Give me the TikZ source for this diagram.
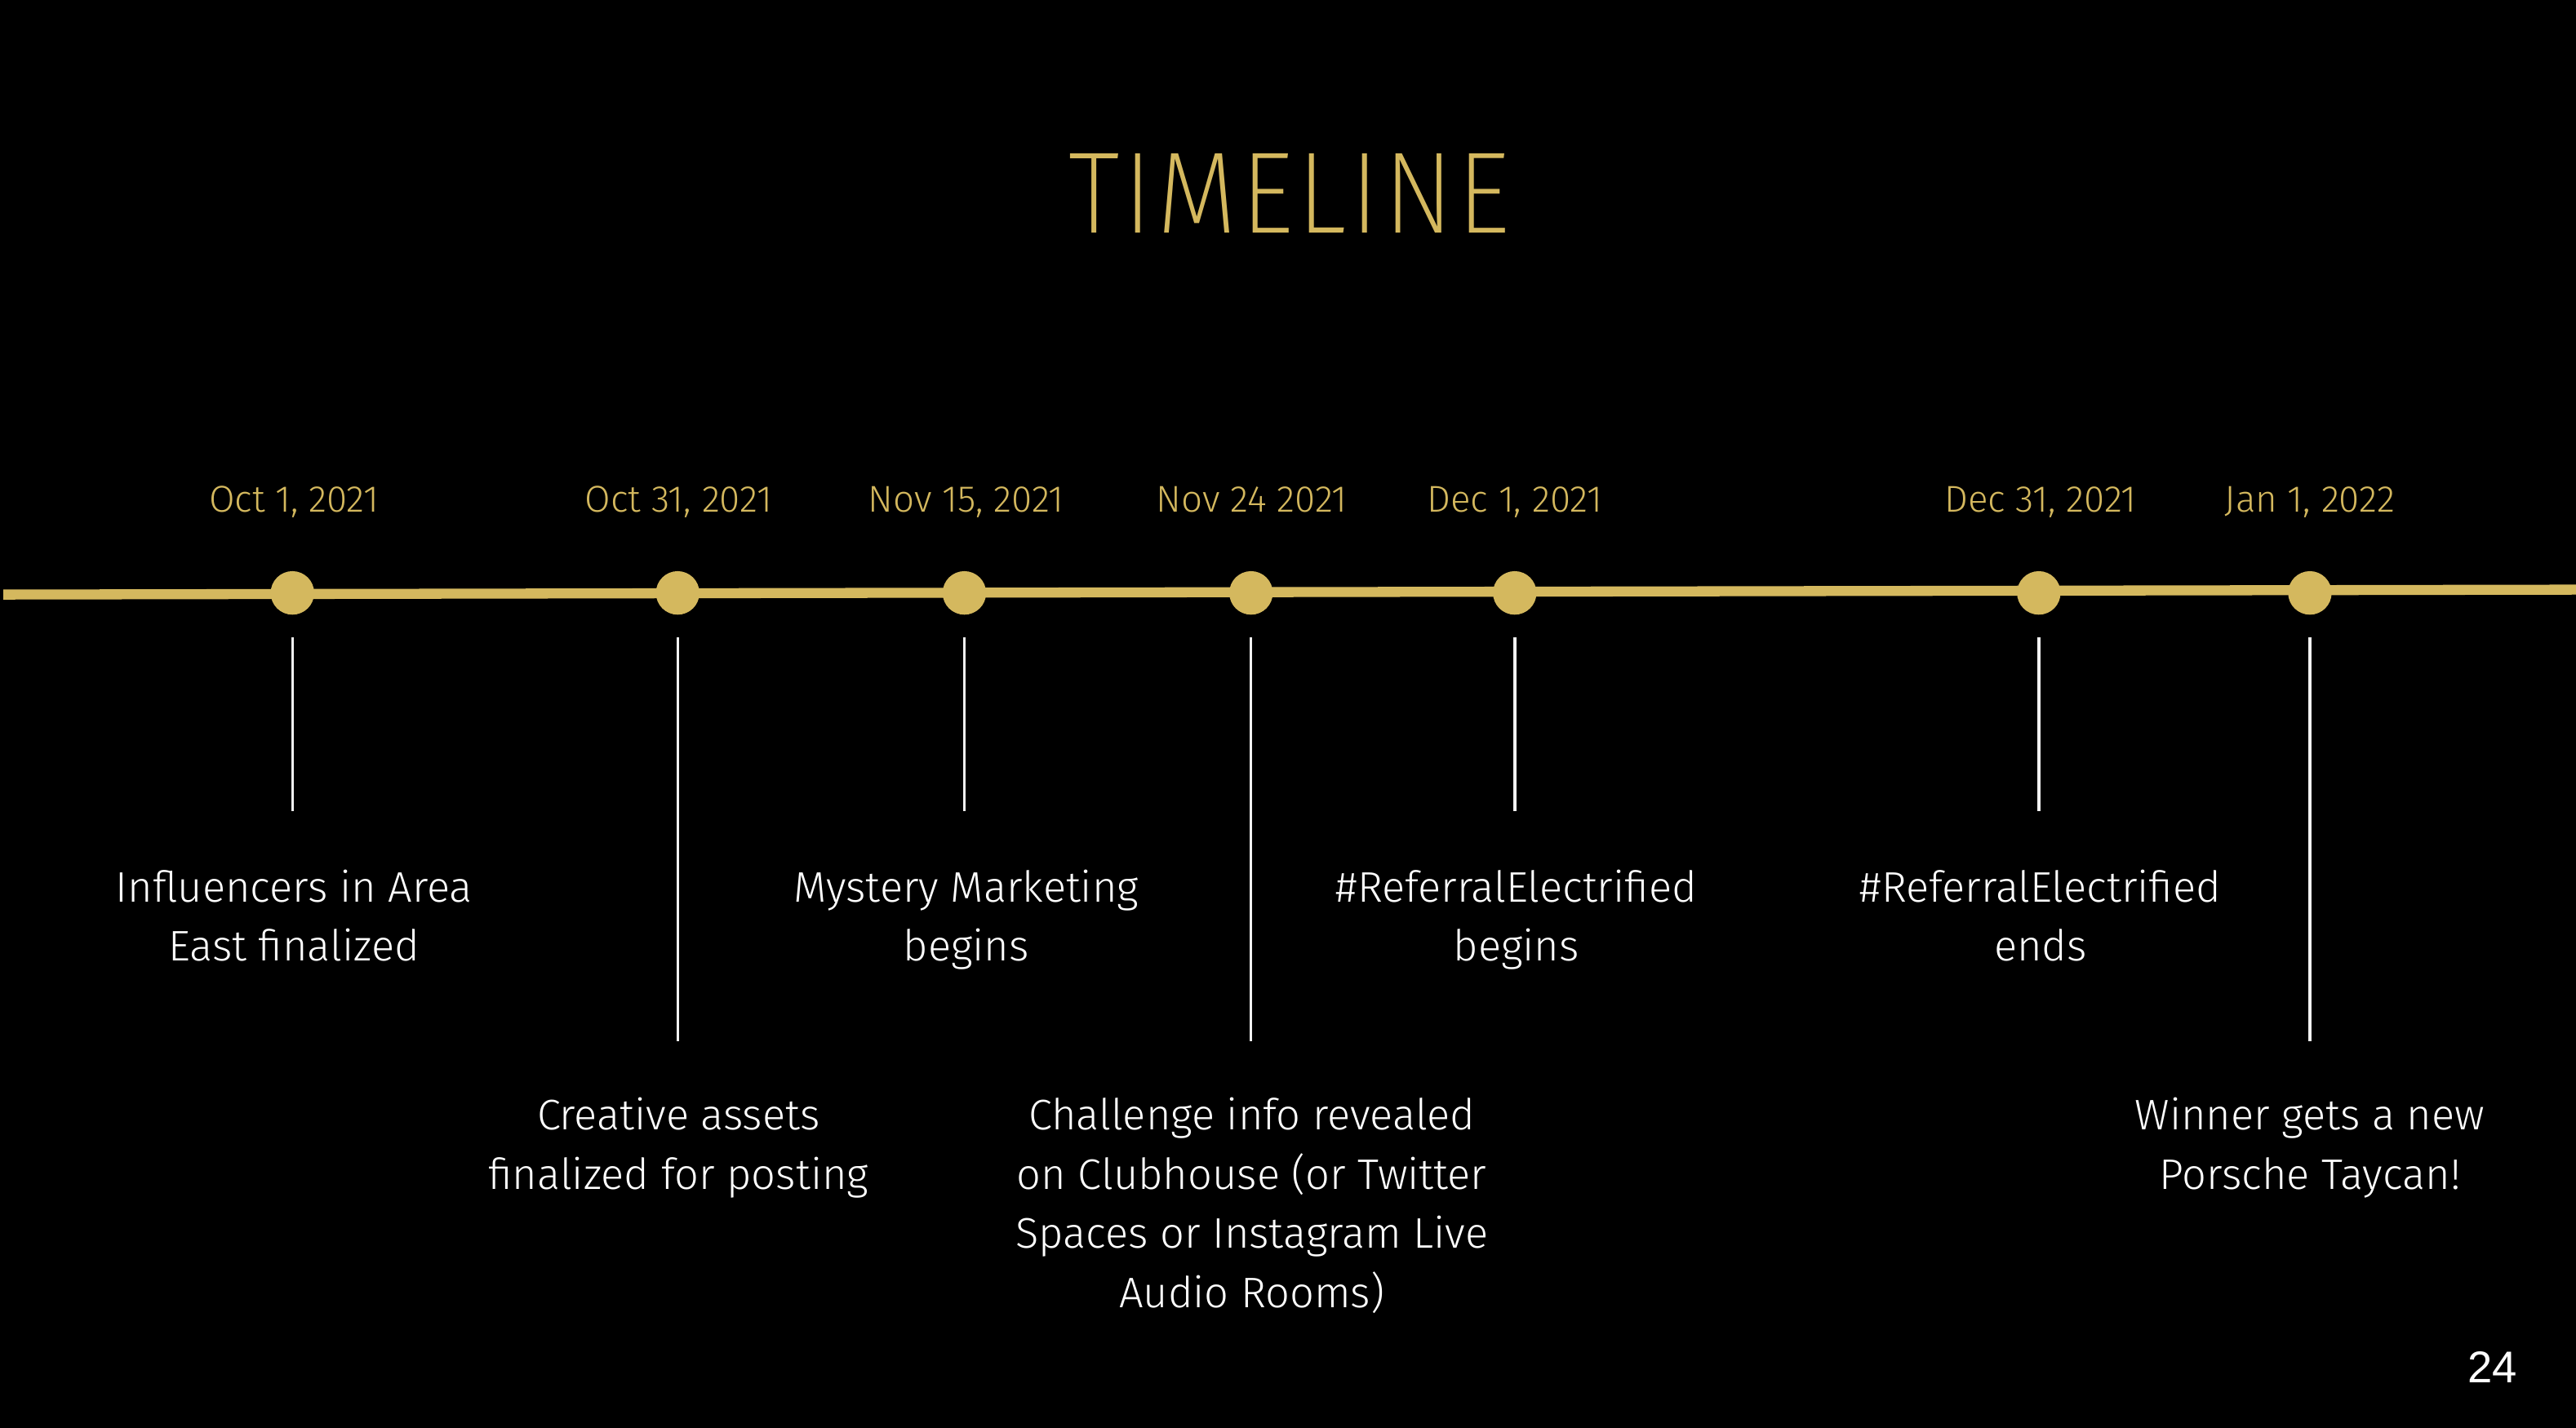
\documentclass[tikz,border=0pt]{standalone}
\usepackage{fontspec}
\setmainfont{Fira Sans}[UprightFont={* Light}]
\newfontfamily\titlefont{Fira Sans}[UprightFont={* ExtraLight},FakeStretch=0.9,LetterSpace=3.5]
\newfontfamily\numfont{Liberation Sans}
\definecolor{gold}{HTML}{D4B85E}
\definecolor{stemc}{HTML}{F2F2F2}
\tikzset{
  titlestyle/.style={text=gold, font=\titlefont\fontsize{40.4}{44}\selectfont, inner sep=0pt},
  datestyle/.style={text=gold, font=\fontsize{13}{15}\selectfont, inner sep=0pt, anchor=base},
  labstyle/.style={text=white, font=\fontsize{14.9}{20.6}\selectfont, align=center, inner sep=0pt, anchor=base},
  dotstyle/.style={circle, fill=gold, minimum size=26.5*0.5727pt, inner sep=0pt},
  stemstyle/.style={stemc, line width=1pt},
  axisstyle/.style={gold, line width=3.5pt}
}
\begin{document}
\begin{tikzpicture}[x=0.020128cm,y=-0.020128cm]
\fill[black] (0,0) rectangle (1568,869.4);
\useasboundingbox (0,0) rectangle (1568,869.4);
\node[titlestyle, anchor=base] (title) at (785,142) {TIMELINE};
\coordinate (L) at (2,362);
\coordinate (R) at (1568,359);
\draw[axisstyle] (L) -- (R);
% dots
\node[dotstyle] (d1) at (178,361) {};
\node[dotstyle] (d2) at (412.5,361) {};
\node[dotstyle] (d3) at (587,361) {};
\node[dotstyle] (d4) at (761.5,361) {};
\node[dotstyle] (d5) at (922,361) {};
\node[dotstyle] (d6) at (1241,361) {};
\node[dotstyle] (d7) at (1406,361) {};
% dates
\node[datestyle] (t1) at (179,312) {Oct 1, 2021};
\node[datestyle] (t2) at (413,312) {Oct 31, 2021};
\node[datestyle] (t3) at (588,312) {Nov 15, 2021};
\node[datestyle] (t4) at (762,312) {Nov 24 2021};
\node[datestyle] (t5) at (922,312) {Dec 1, 2021};
\node[datestyle] (t6) at (1242,312) {Dec 31, 2021};
\node[datestyle] (t7) at (1406,312) {Jan 1, 2022};
% stems
\coordinate (s1a) at (178,388); \coordinate (s1b) at (178,494);
\coordinate (s2a) at (412.5,388); \coordinate (s2b) at (412.5,634);
\coordinate (s3a) at (587,388); \coordinate (s3b) at (587,494);
\coordinate (s4a) at (761.5,388); \coordinate (s4b) at (761.5,634);
\coordinate (s5a) at (922,388); \coordinate (s5b) at (922,494);
\coordinate (s6a) at (1241,388); \coordinate (s6b) at (1241,494);
\coordinate (s7a) at (1406,388); \coordinate (s7b) at (1406,634);
\foreach \i in {1,...,7} {\draw[stemstyle] (s\i a) -- (s\i b);}
% labels (anchor base = baseline of last line)
\node[labstyle] (e1) at (179,585) {Influencers in Area\\East finalized};
\node[labstyle] (e2) at (413,724) {Creative assets\\finalized for posting};
\node[labstyle] (e3) at (588,585) {Mystery Marketing\\begins};
\node[labstyle] (e4) at (762,796) {Challenge info revealed\\on Clubhouse (or Twitter\\Spaces or Instagram Live\\Audio Rooms)};
\node[labstyle] (e5) at (923,585) {\#ReferralElectrified\\begins};
\node[labstyle] (e6) at (1242,585) {\#ReferralElectrified\\ends};
\node[labstyle] (e7) at (1406,724) {Winner gets a new\\Porsche Taycan!};
\node[text=white, font=\numfont\fontsize{15.5}{18}\selectfont, inner sep=0pt, anchor=base] (pg) at (1517,842) {24};
\end{tikzpicture}
\end{document}
